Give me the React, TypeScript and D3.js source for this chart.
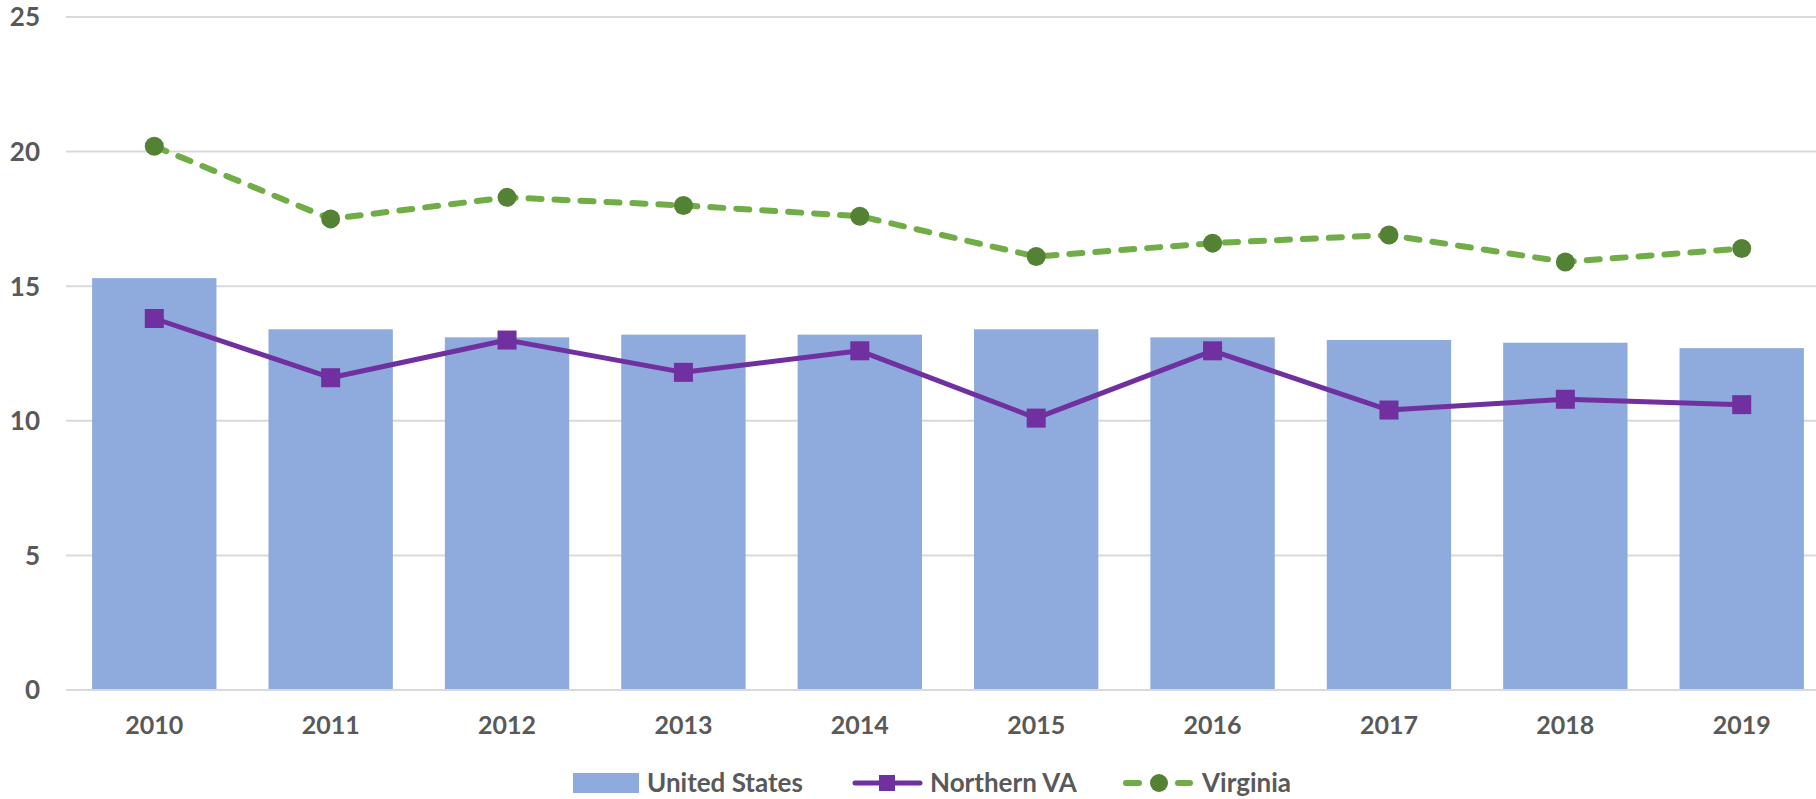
import React, { useEffect } from "react";
import * as d3 from "d3";

const years = ["2010", "2011", "2012", "2013", "2014", "2015", "2016", "2017", "2018", "2019"];
const unitedStates = [15.3, 13.4, 13.1, 13.2, 13.2, 13.4, 13.1, 13.0, 12.9, 12.7];
const northernVA = [13.8, 11.6, 13.0, 11.8, 12.6, 10.1, 12.6, 10.4, 10.8, 10.6];
const virginia = [20.2, 17.5, 18.3, 18.0, 17.6, 16.1, 16.6, 16.9, 15.9, 16.4];
const yTicks = [0, 5, 10, 15, 20, 25];

const width = 1816;
const height = 799;
const font = "Lato, 'Open Sans', sans-serif";
const textColor = "#595959";
const barColor = "#8FAADC";
const purple = "#7030A0";
const green = "#70AD47";
const darkGreen = "#548235";

const App = () => {
    useEffect(() => {
        document.body.style.margin = "0";
    }, []);

    const x = d3.scaleBand<string>()
        .domain(years)
        .range([66, 1830])
        .paddingInner(0.295)
        .paddingOuter(0.148);

    const y = d3.scaleLinear().domain([0, 25]).range([690, 17]);

    const cx = (i: number) => (x(years[i]) as number) + x.bandwidth() / 2;

    const line = d3.line<number>()
        .x((d, i) => cx(i))
        .y(d => y(d));

    const sq = 19;

    return (
        <svg width={width} height={height} style={{display: "block"}} fontFamily={font}>
            {/* gridlines */}
            {yTicks.map(t => (
                <g key={t}>
                    <line x1={66} x2={1830} y1={y(t)} y2={y(t)}
                          stroke="#d9d9d9" strokeWidth={2}/>
                    <text x={40} y={y(t)} dy="0.36em" textAnchor="end"
                          fontSize={26} fontWeight="bold" fill={textColor}>{t}</text>
                </g>
            ))}

            {/* bars */}
            {unitedStates.map((v, i) => (
                <rect key={years[i]} x={x(years[i])} y={y(v)} width={x.bandwidth()}
                      height={y(0) - y(v)} fill={barColor}/>
            ))}

            {/* x axis line */}
            <line x1={66} x2={1830} y1={y(0)} y2={y(0)} stroke="#d9d9d9" strokeWidth={2}/>
            {years.map(yr => (
                <text key={yr} x={(x(yr) as number) + x.bandwidth() / 2} y={725} dy="0.36em"
                      textAnchor="middle" fontSize={25} fontWeight="bold" fill={textColor}>{yr}</text>
            ))}

            {/* Virginia */}
            <path d={line(virginia) || ""} fill="none" stroke={green} strokeWidth={6}
                  strokeDasharray="13 13" strokeLinecap="round"/>
            {virginia.map((v, i) => (
                <circle key={i} cx={cx(i)} cy={y(v)} r={9.5} fill={darkGreen}/>
            ))}

            {/* Northern VA */}
            <path d={line(northernVA) || ""} fill="none" stroke={purple} strokeWidth={5}
                  strokeLinejoin="round"/>
            {northernVA.map((v, i) => (
                <rect key={i} x={cx(i) - sq / 2} y={y(v) - sq / 2} width={sq} height={sq} fill={purple}/>
            ))}

            {/* legend */}
            <g fontSize={26} fontWeight="bold" fill={textColor}>
                <rect x={573} y={773} width={66} height={20} fill={barColor}/>
                <text x={647} y={783} dy="0.36em">United States</text>

                <line x1={855} x2={920} y1={783} y2={783} stroke={purple} strokeWidth={5} strokeLinecap="round"/>
                <rect x={887 - 8} y={783 - 8} width={16} height={16} fill={purple}/>
                <text x={930} y={783} dy="0.36em">Northern VA</text>

                <line x1={1126} x2={1139} y1={783} y2={783} stroke={green} strokeWidth={6} strokeLinecap="round"/>
                <line x1={1178} x2={1190} y1={783} y2={783} stroke={green} strokeWidth={6} strokeLinecap="round"/>
                <circle cx={1159} cy={783} r={9} fill={darkGreen}/>
                <text x={1202} y={783} dy="0.36em">Virginia</text>
            </g>
        </svg>
    );
};

export default App;
